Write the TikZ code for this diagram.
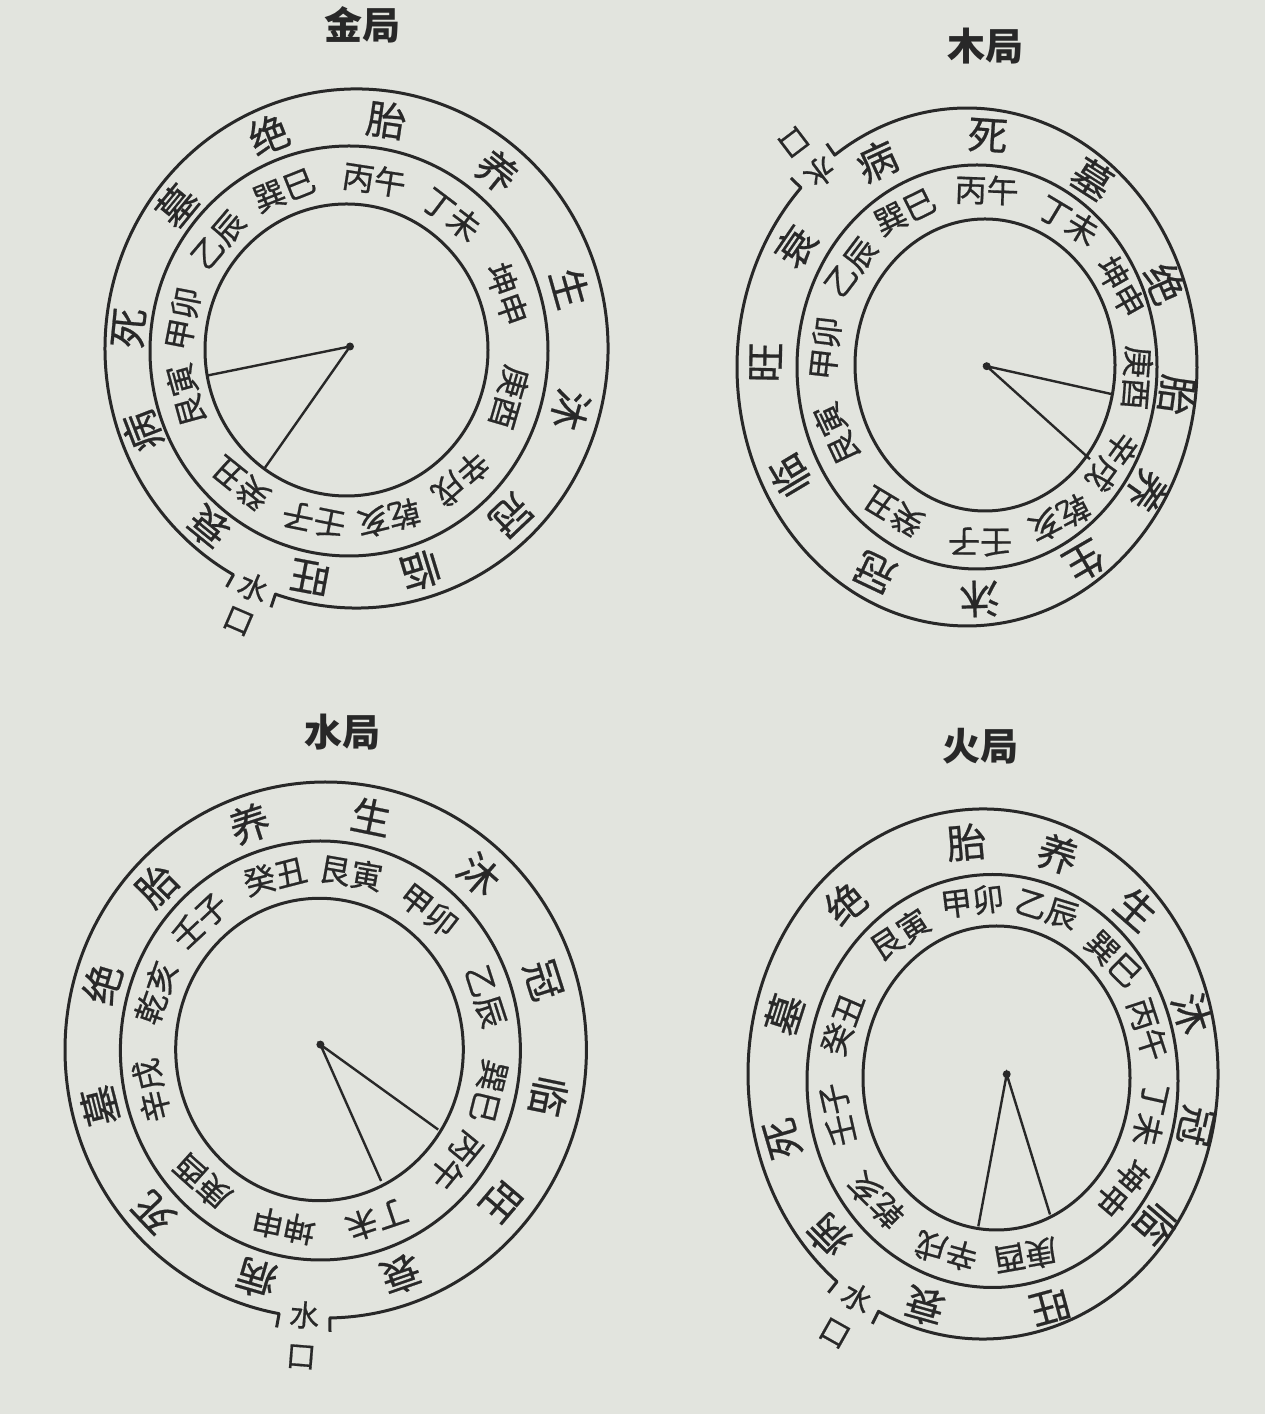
\documentclass[tikz,border=0pt]{standalone}
\usepackage{fontspec}
\newfontfamily\cjk{Noto Sans CJK SC}
\newfontfamily\cjkring[FakeBold=0.6]{Noto Sans CJK SC}
\definecolor{paper}{RGB}{226,228,222}
\definecolor{ink}{RGB}{40,40,40}
\begin{document}
\begin{tikzpicture}[x=1pt,y=1pt,
  ring/.style={draw=ink, line width=3pt, line join=round},
  spoke/.style={draw=ink, line width=2.4pt},
  pairtxt/.style={font=\cjkring\fontsize{32}{32}\selectfont, text=ink, inner sep=0pt},
  stagetxt/.style={font=\cjkring\fontsize{40}{40}\selectfont, text=ink, inner sep=0pt},
  mouthtxt/.style={font=\cjkring\fontsize{30}{30}\selectfont, text=ink, inner sep=0pt},
  titletxt/.style={font=\cjk\bfseries\fontsize{38}{38}\selectfont, text=ink, inner sep=0pt}]
\fill[paper] (0,0) rectangle (1265,1414);
\useasboundingbox (0,0) rectangle (1265,1414);

% ---------------- 金局 ----------------
\node[titletxt] (t1) at (362,1389) {金局};
\begin{scope}[shift={(350,1067.5)}]
  \coordinate (d1c) at (0,0);
  \draw[ring] (-3.5,-3.5) ellipse [x radius=141.5, y radius=146];
  \draw[ring] (-1,-4.5) ellipse [x radius=199, y radius=205];
  \begin{scope}[shift={(6.5,-2)}]
    \path (-108.8:251.5 and 259.5) coordinate (d1e2);
    \path (-108.8:265.5 and 273.5) coordinate (d1t2);
    \path (-119.3:265.5 and 273.5) coordinate (d1t1);
    \draw[ring] (d1t2) -- (d1e2) arc[start angle=-108.8, end angle=240.7, x radius=251.5, y radius=259.5] -- (d1t1);
    \node[mouthtxt, rotate=-23.3] (d1w) at (-114:253.5 and 261.5) {水};
    \node[mouthtxt, rotate=-23.3] (d1m) at (-114:290.5 and 298.5) {口};
  \end{scope}
  \begin{scope}[shift={(-2,-4)}]
    \foreach \a/\p [count=\i] in {81/丙午, 52/丁未, 19/坤申, -15.8/庚酉, -47.8/辛戌, -76/乾亥, -101.7/壬子, -129.7/癸丑, -165/艮寅, 169.4/甲卯, 140.4/乙辰, 112.3/巽巳}{
      \pgfmathsetmacro\rotp{atan2(173*sin(\a),168*cos(\a))-90}
      \node[pairtxt, rotate=\rotp] (d1p\i) at (\a:168 and 173) {\p};
    }
  \end{scope}
  \begin{scope}[shift={(3,-3)}]
    \foreach \a/\g [count=\i] in {81.4/胎, 50.2/养, 15.3/生, -15.1/沐, -45.6/冠, -72.5/临, -101/旺, -130/衰, -159.4/病, 174.7/死, 141.6/墓, 112/绝}{
      \pgfmathsetmacro\rots{atan2(232*sin(\a),225*cos(\a))-90}
      \node[stagetxt, rotate=\rots] (d1s\i) at (\a:225 and 232) {\g};
    }
  \end{scope}
  \coordinate (d1l1) at (-142,-28.9);
  \coordinate (d1l2) at (-85,-121.2);
  \draw[spoke] (d1l1) -- (d1c) -- (d1l2);
  \fill[ink] (d1c) circle (4);
\end{scope}

% ---------------- 木局 ----------------
\node[titletxt] (t2) at (985,1368) {木局};
\begin{scope}[shift={(986.7,1047.8)}]
  \coordinate (d2c) at (0,0);
  \draw[ring] (-1.7,1.2) ellipse [x radius=130, y radius=146];
  \draw[ring] (-9.7,-0.8) ellipse [x radius=180, y radius=202];
  \begin{scope}[shift={(-19.7,-0.8)}]
    \path (136.2:230 and 259) coordinate (d2e2);
    \path (136.2:244 and 273) coordinate (d2t2);
    \path (125.1:244 and 273) coordinate (d2t1);
    \draw[ring] (d2t2) -- (d2e2) arc[start angle=136.2, end angle=485.1, x radius=230, y radius=259] -- (d2t1);
    \node[mouthtxt, rotate=-142.8] (d2w) at (130.5:227 and 256) {水};
    \node[mouthtxt, rotate=-142.8] (d2m) at (130.5:267 and 296) {口};
  \end{scope}
  \begin{scope}[shift={(-5.7,0.2)}]
    \foreach \a/\p [count=\i] in {87.9/丙午, 56/丁未, 26.8/坤申, -3.9/庚酉, -33/辛戌, -60/乾亥, -90.3/壬子, -124/癸丑, -157.3/艮寅, 174.2/甲卯, 146/乙辰, 119/巽巳}{
      \pgfmathsetmacro\rotp{atan2(176*sin(\a),156.6*cos(\a))-90}
      \node[pairtxt, rotate=\rotp] (d2p\i) at (\a:156.6 and 176) {\p};
    }
  \end{scope}
  \begin{scope}[shift={(-14.7,-0.8)}]
    \foreach \a/\g [count=\i] in {85.6/死, 54.3/墓, 21.1/绝, -7/胎, -32.2/养, -57/生, -87.9/沐, -118/冠, -152/临, 178.9/旺, 148.7/衰, 117.4/病}{
      \pgfmathsetmacro\rots{atan2(232*sin(\a),206.5*cos(\a))-90}
      \node[stagetxt, rotate=\rots] (d2s\i) at (\a:206.5 and 232) {\g};
    }
  \end{scope}
  \coordinate (d2l1) at (125,-27.9);
  \coordinate (d2l2) at (103.3,-93);
  \draw[spoke] (d2l1) -- (d2c) -- (d2l2);
  \fill[ink] (d2c) circle (4);
\end{scope}

% ---------------- 水局 ----------------
\node[titletxt] (t3) at (342,682) {水局};
\begin{scope}[shift={(320.4,369.4)}]
  \coordinate (d3c) at (0,0);
  \draw[ring] (-0.9,-4.9) ellipse [x radius=143.8, y radius=151.2];
  \draw[ring] (0,-5.9) ellipse [x radius=200, y radius=209.5];
  \begin{scope}[shift={(5.3,-5.4)}]
    \path (-89.1:260.7 and 268) coordinate (d3e2);
    \path (-89.1:274.7 and 282) coordinate (d3t2);
    \path (-100.3:274.7 and 282) coordinate (d3t1);
    \draw[ring] (d3t2) -- (d3e2) arc[start angle=-89.1, end angle=259.7, x radius=260.7, y radius=268] -- (d3t1);
    \node[mouthtxt, rotate=-4.6] (d3w) at (-94.7:258.7 and 266) {水};
    \node[mouthtxt, rotate=-4.6] (d3m) at (-94.7:300.7 and 308) {口};
  \end{scope}
  \begin{scope}[shift={(-0.4,-5.4)}]
    \foreach \a/\p [count=\i] in {105.1/癸丑, 79.7/艮寅, 51/甲卯, 17.3/乙辰, -13.3/巽巳, -38/丙午, -70.7/丁未, -102.1/坤申, -133/庚酉, -167/辛戌, 161.4/乾亥, 134.1/壬子}{
      \pgfmathsetmacro\rotp{atan2(180*sin(\a),173*cos(\a))-90}
      \node[pairtxt, rotate=\rotp] (d3p\i) at (\a:173 and 180) {\p};
    }
  \end{scope}
  \begin{scope}[shift={(2.6,-5.4)}]
    \foreach \a/\g [count=\i] in {108.6/养, 77.9/生, 47.3/沐, 17/冠, -11.2/临, -39.3/旺, -70.2/衰, -106.8/病, -137.3/死, -166.4/墓, 163.9/绝, 136.3/胎}{
      \pgfmathsetmacro\rots{atan2(238.7*sin(\a),230*cos(\a))-90}
      \node[stagetxt, rotate=\rots] (d3s\i) at (\a:230 and 238.7) {\g};
    }
  \end{scope}
  \coordinate (d3l1) at (117.8,-85);
  \coordinate (d3l2) at (60.7,-136.4);
  \draw[spoke] (d3l1) -- (d3c) -- (d3l2);
  \fill[ink] (d3c) circle (4);
\end{scope}

% ---------------- 火局 ----------------
\node[titletxt] (t4) at (980,668) {火局};
\begin{scope}[shift={(1006.7,339.8)}]
  \coordinate (d4c) at (0,0);
  \draw[ring] (-10.2,-3.8) ellipse [x radius=133.5, y radius=152];
  \draw[ring] (-14.2,-6.8) ellipse [x radius=185.5, y radius=206.5];
  \begin{scope}[shift={(-23.7,0.2)}]
    \path (-116.4:235 and 265) coordinate (d4e2);
    \path (-116.4:249 and 279) coordinate (d4t2);
    \path (-128.4:249 and 279) coordinate (d4t1);
    \draw[ring] (d4t2) -- (d4e2) arc[start angle=-116.4, end angle=231.6, x radius=235, y radius=265] -- (d4t1);
    \node[mouthtxt, rotate=-29.4] (d4w) at (-122.4:235 and 265) {水};
    \node[mouthtxt, rotate=-29.4] (d4m) at (-122.4:277 and 307) {口};
  \end{scope}
  \begin{scope}[shift={(-12.2,-5.3)}]
    \foreach \a/\p [count=\i] in {126.3/艮寅, 98/甲卯, 71/乙辰, 42/巽巳, 16.2/丙午, -11.2/丁未, -37.1/坤申, -78.8/庚酉, -107.5/辛戌, -138/乾亥, -168.7/壬子, 162.1/癸丑}{
      \pgfmathsetmacro\rotp{atan2(180*sin(\a),160*cos(\a))-90}
      \node[pairtxt, rotate=\rotp] (d4p\i) at (\a:160 and 180) {\p};
    }
  \end{scope}
  \begin{scope}[shift={(-18.7,-4.8)}]
    \foreach \a/\g [count=\i] in {132.3/绝, 95.8/胎, 70.8/养, 45.6/生, 16/沐, -11.4/冠, -37.6/临, -73/旺, -107.4/衰, -138.8/病, -165.5/死, 164.2/墓}{
      \pgfmathsetmacro\rots{atan2(238*sin(\a),212*cos(\a))-90}
      \node[stagetxt, rotate=\rots] (d4s\i) at (\a:212 and 238) {\g};
    }
  \end{scope}
  \coordinate (d4l1) at (-28.4,-152.2);
  \coordinate (d4l2) at (43.3,-140.3);
  \draw[spoke] (d4l1) -- (d4c) -- (d4l2);
  \fill[ink] (d4c) circle (4);
\end{scope}
\end{tikzpicture}
\end{document}
